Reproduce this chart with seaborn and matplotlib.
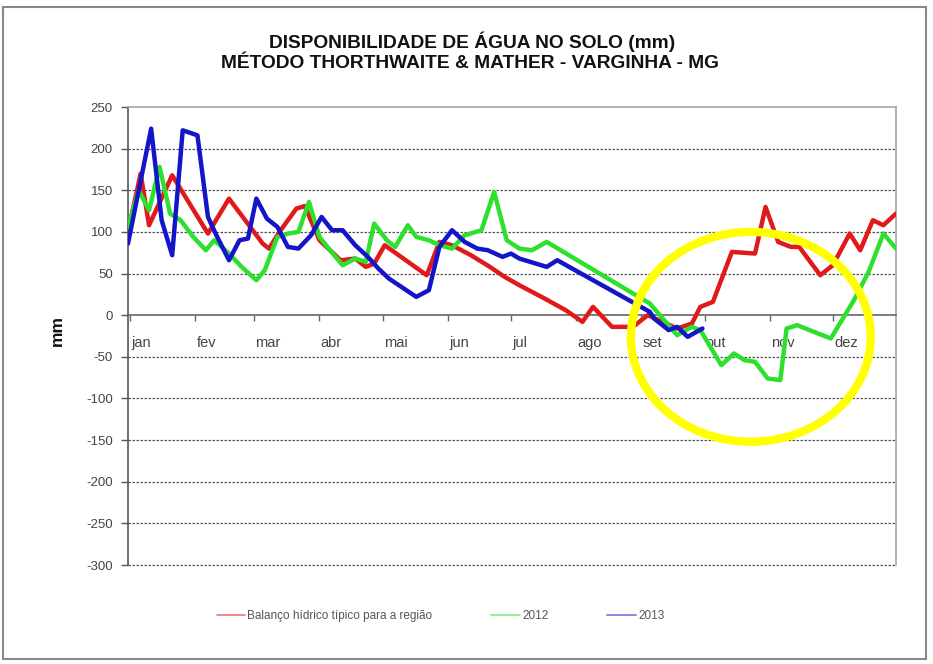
import matplotlib
matplotlib.use("Agg")
import matplotlib.pyplot as plt
from matplotlib.lines import Line2D
from matplotlib.patches import Ellipse, Rectangle
import seaborn as sns
import pandas as pd

# ---- data (day of year position, mm) ----
red_days = [0, 6, 10, 21, 38, 48, 64, 67, 72, 80, 84, 91, 101, 108, 113, 117, 122, 142, 148, 154,
            163, 172, 179, 186, 198, 208, 216, 221, 230, 240, 247, 261, 268, 272, 278, 287, 298, 303,
            309, 315, 319, 329, 335, 343, 348, 354, 359, 365]
red_vals = [100, 170, 108, 168, 98, 140, 86, 80, 100, 128, 131, 90, 66, 68, 58, 62, 84, 48, 88, 84,
            72, 58, 46, 36, 20, 6, -8, 10, -14, -14, 0, -16, -10, 10, 16, 76, 74, 130,
            88, 82, 82, 48, 60, 98, 78, 114, 108, 122]

green_days = [0, 5, 10, 15, 20, 25, 31, 37, 41, 48, 54, 61, 65, 71, 76, 81, 86, 91, 96, 102,
              108, 113, 117, 123, 127, 133, 137, 143, 148, 154, 160, 168, 174, 180, 186, 192, 199, 248,
              261, 268, 272, 282, 288, 293, 298, 304, 310, 313, 318, 334, 345, 352, 359, 365]
green_vals = [105, 150, 126, 178, 122, 114, 94, 78, 90, 74, 58, 42, 54, 94, 98, 100, 136, 94, 78, 60,
              68, 64, 110, 90, 82, 108, 94, 90, 84, 80, 96, 102, 148, 90, 80, 78, 88, 14,
              -24, -14, -18, -60, -46, -54, -56, -76, -78, -16, -12, -28, 18, 52, 98, 80]

blue_days = [0, 11, 16, 21, 26, 33, 38, 42, 48, 53, 57, 61, 66, 71, 76, 81, 87, 92, 97, 102,
             108, 114, 119, 124, 137, 143, 148, 154, 160, 166, 171, 178, 182, 186, 199, 204, 248, 250,
             257, 261, 266, 273]
blue_vals = [86, 224, 114, 72, 222, 216, 118, 96, 66, 90, 92, 140, 116, 106, 82, 80, 96, 118, 102, 102,
             84, 70, 56, 44, 22, 30, 82, 102, 88, 80, 78, 70, 74, 68, 58, 66, 4, -4,
             -18, -14, -26, -16]

series_names = ["Balanço hídrico típico para a região", "2012", "2013"]
months = ["jan", "fev", "mar", "abr", "mai", "jun", "jul", "ago", "set", "out", "nov", "dez"]
month_starts = [1, 32, 60, 91, 121, 152, 182, 213, 244, 274, 305, 335]
y_ticks = [250, 200, 150, 100, 50, 0, -50, -100, -150, -200, -250, -300]
title_lines = ["DISPONIBILIDADE DE ÁGUA NO SOLO (mm)", "MÉTODO THORTHWAITE & MATHER - VARGINHA - MG"]

colors = ["#E01A1A", "#2EE02E", "#1414C8"]

sns.set_theme(style="white")
plt.rcParams["font.family"] = ["Liberation Sans", "DejaVu Sans"]

fig = plt.figure(figsize=(9.33, 6.64), dpi=100)
ax = fig.add_axes([128 / 933, 1 - 565 / 664, 768 / 933, 458 / 664])

frames = [
    pd.DataFrame({"dia": red_days, "mm": red_vals}),
    pd.DataFrame({"dia": green_days, "mm": green_vals}),
    pd.DataFrame({"dia": blue_days, "mm": blue_vals}),
]
for df, c in zip(frames, colors):
    sns.lineplot(data=df, x="dia", y="mm", ax=ax, color=c, lw=3.2, legend=False,
                 estimator=None, sort=False, zorder=3)

ax.set_xlim(0, 365)
ax.set_ylim(-300, 250)
ax.set_yticks(y_ticks)
ax.set_yticklabels([str(v) for v in y_ticks], fontsize=9.5, color="#444444")
ax.tick_params(axis="y", direction="out", length=5, width=1, color="#555555", pad=6, left=True)

# gridlines
for v in y_ticks:
    if v != 0 and v != 250:
        ax.axhline(v, color="#555555", lw=0.9, ls=(0, (2, 1.2)), zorder=1, clip_on=False)

# x axis crossing at zero
ax.spines["bottom"].set_position(("data", 0))
ax.spines["bottom"].set_color("#666666")
ax.spines["bottom"].set_linewidth(1.2)
ax.set_xticks(month_starts)
ax.set_xticklabels([""] * len(month_starts))
ax.tick_params(axis="x", direction="out", length=4, width=1, color="#666666", bottom=True)
for m, d in zip(months, month_starts):
    ax.text(d + 0.5, -33, m, ha="left", va="center", fontsize=10.5, color="#444444", zorder=2)

ax.spines["left"].set_color("#555555")
ax.spines["left"].set_linewidth(1.2)
ax.spines["top"].set_color("#aaaaaa")
ax.spines["right"].set_color("#aaaaaa")
ax.set_xlabel("")
ax.set_ylabel("")

# highlight ellipse
ax.add_patch(Ellipse((296, -26), width=114, height=252, fill=False, edgecolor="#FFFF00",
                     lw=6, clip_on=False, zorder=10))

# titles
fig.text(472 / 933, 1 - 42 / 664, title_lines[0], ha="center", va="center",
         fontsize=13.8, fontweight="bold", color="#111111")
fig.text(470 / 933, 1 - 64 / 664, title_lines[1], ha="center", va="center",
         fontsize=13.8, fontweight="bold", color="#111111")
fig.text(57 / 933, 1 - 330 / 664, "mm", rotation=90, ha="center", va="center",
         fontsize=12.5, fontweight="bold", color="#111111")

# legend
handles = [Line2D([0], [0], color=c, lw=1.3, alpha=0.55) for c in colors]
leg = fig.legend(handles, series_names, loc="center left", bbox_to_anchor=(206 / 933, 1 - 616 / 664),
                 ncol=3, frameon=False, fontsize=8.5, handlelength=2.4, handletextpad=0.2,
                 columnspacing=5.0)
for t in leg.get_texts():
    t.set_color("#555555")

# chart border
fig.patches.append(Rectangle((3 / 933, 5 / 664), 923 / 933, 652 / 664, transform=fig.transFigure,
                             fill=False, edgecolor="#888888", lw=1.5))

fig.savefig("out.png", dpi=100, facecolor="white")
